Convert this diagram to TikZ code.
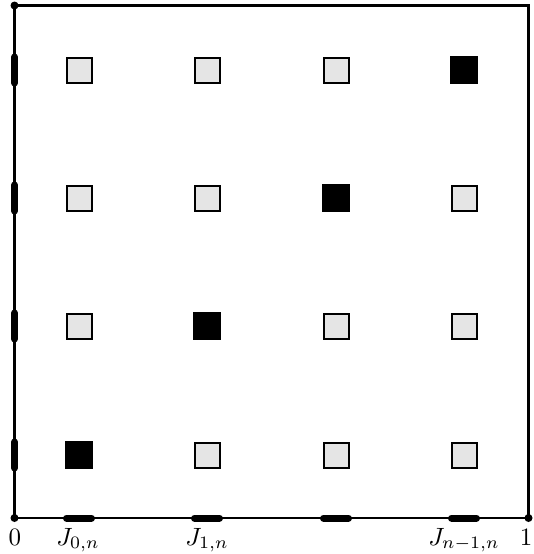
\documentclass[tikz,border=0pt]{standalone}
\newcommand{\bigtxt}[1]{\scalebox{2.5}{#1}}
\begin{document}
\begin{tikzpicture}[x=1pt,y=-1pt,
  axis/.style={line width=2.2pt},
  seg/.style={line width=7pt,line cap=round},
  gsq/.style={draw=black,line width=2pt,fill=black!10,minimum size=25pt,inner sep=0pt},
  bsq/.style={draw=black,line width=1pt,fill=black,minimum size=27pt,inner sep=0pt},
  dot/.style={circle,fill=black,inner sep=0pt,minimum size=8pt},
  lab/.style={inner sep=0pt}]
\useasboundingbox (0,0) rectangle (533,554);
\coordinate (O) at (14.5,518);
\coordinate (TL) at (14.5,5.5);
\coordinate (TR) at (528.5,5.5);
\coordinate (BR) at (528.5,518);
\draw[axis] (TL) -- (TR) -- (BR) -- (O) -- cycle;
\node[dot] (d0) at (O) {};
\node[dot] (d1) at (TL) {};
\node[dot] (d2) at (BR) {};
% bottom intervals
\foreach \i/\x in {0/79,1/207,2/336,3/464}{
  \coordinate (ba\i) at (\x-12.5,518);
  \coordinate (bb\i) at (\x+12.5,518);
  \draw[seg] (ba\i) -- (bb\i);
}
% left intervals
\foreach \i/\y in {0/455,1/326,2/198,3/70}{
  \coordinate (la\i) at (14.5,\y-13);
  \coordinate (lb\i) at (14.5,\y+13);
  \draw[seg] (la\i) -- (lb\i);
}
% squares
\foreach \c/\x in {0/79,1/207,2/336,3/464}{
  \foreach \r/\y in {0/455,1/326,2/198,3/70}{
    \ifnum\c=\r
      \node[bsq] (s\c\r) at (\x,\y) {};
    \else
      \node[gsq] (s\c\r) at (\x,\y) {};
    \fi
  }
}
% labels
\node[lab,anchor=base] (l0) at (15,545) {\bigtxt{$0$}};
\node[lab,anchor=base] (l1) at (526,545) {\bigtxt{$1$}};
\node[lab,anchor=base] (j0) at (78,545) {\bigtxt{$J_{0,n}$}};
\node[lab,anchor=base] (j1) at (207,545) {\bigtxt{$J_{1,n}$}};
\node[lab,anchor=base] (j3) at (464,545) {\bigtxt{$J_{n-1,n}$}};
\end{tikzpicture}
\end{document}
